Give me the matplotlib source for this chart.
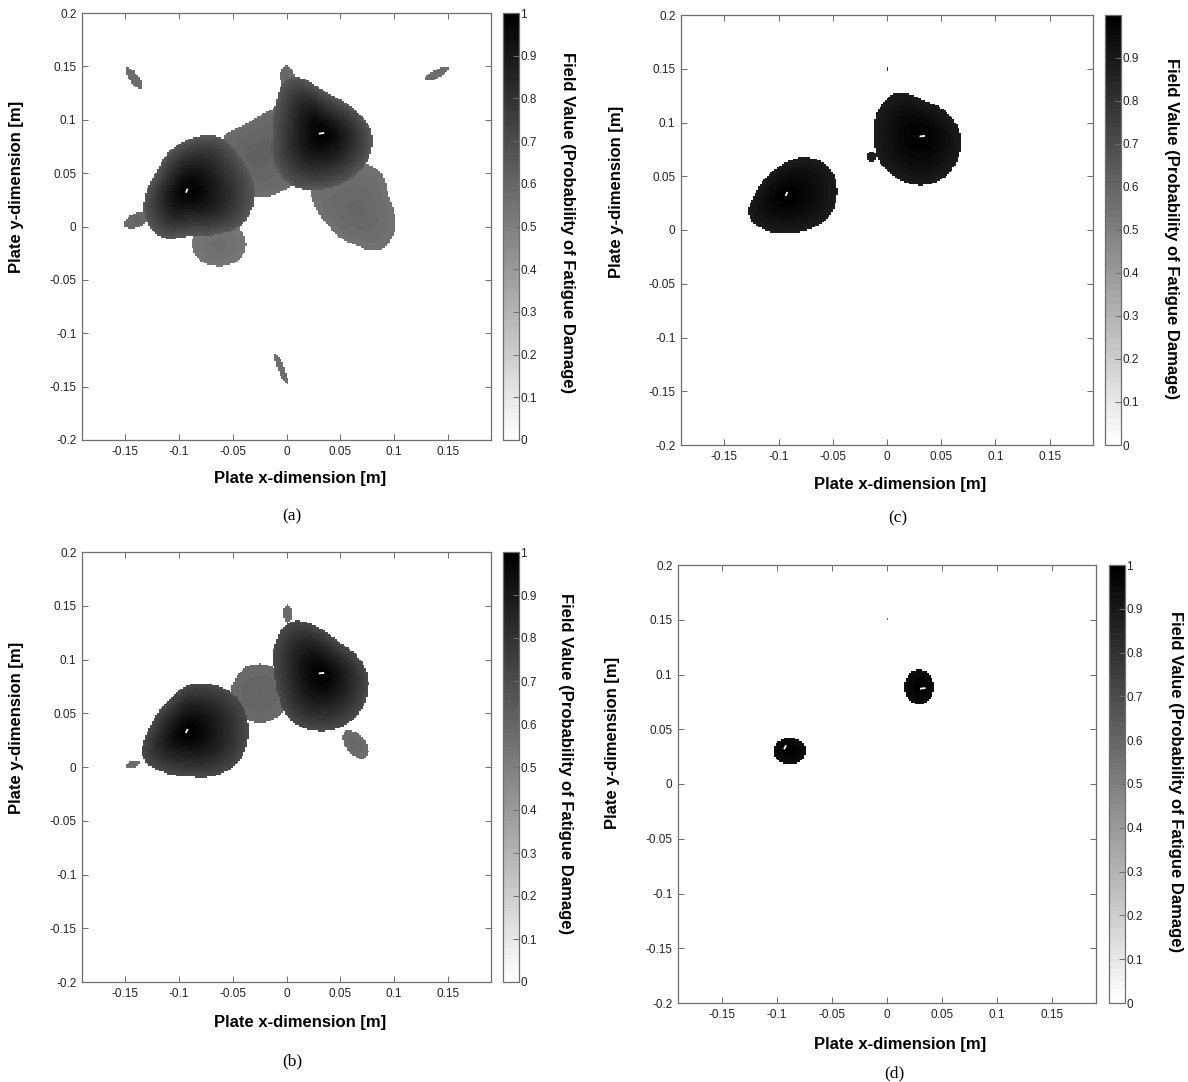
import numpy as np
import matplotlib
matplotlib.use("Agg")
import matplotlib.pyplot as plt
from matplotlib.ticker import FuncFormatter

W, H = 1188, 1082
plt.rcParams['font.family'] = ['Liberation Sans', 'DejaVu Sans']

# ---------------------------------------------------------------- axes setup
X_LIM = (-0.19, 0.19)
Y_LIM = (-0.2, 0.2)
X_TICKS = [-0.15, -0.1, -0.05, 0, 0.05, 0.1, 0.15]
Y_TICKS = [-0.2, -0.15, -0.1, -0.05, 0, 0.05, 0.1, 0.15, 0.2]
CB_TICKS = [0, 0.1, 0.2, 0.3, 0.4, 0.5, 0.6, 0.7, 0.8, 0.9, 1.0]
PANEL_TAGS = ['(a)', '(b)', '(c)', '(d)']
X_LABEL = 'Plate x-dimension [m]'
Y_LABEL = 'Plate y-dimension [m]'
CB_LABEL = 'Field Value (Probability of Fatigue Damage)'

# sensor markers: short white strokes at the two damage sources
SENSOR_X0 = [-0.0936, 0.0300]
SENSOR_Y0 = [0.0317, 0.0870]
SENSOR_X1 = [-0.0918, 0.0350]
SENSOR_Y1 = [0.0354, 0.0876]

# boundary radii of each lobe are sampled at these polar angles
ANGLES_DEG = [0, 30, 60, 90, 120, 150, 180, 210, 240, 270, 300, 330]

# ---------------------------------------------------------------- panel (a)
A_LOBE_CX = [-0.092, 0.0325, -0.028, 0.065, -0.063]
A_LOBE_CY = [0.0335, 0.087, 0.068, 0.015, -0.018]
A_LOBE_R = [
    [0.062, 0.058, 0.058, 0.048, 0.039, 0.034, 0.038, 0.046, 0.050, 0.043, 0.048, 0.060],
    [0.046, 0.039, 0.036, 0.041, 0.060, 0.050, 0.046, 0.052, 0.056, 0.052, 0.050, 0.049],
    [0.045, 0.050, 0.050, 0.034, 0.030, 0.034, 0.035, 0.035, 0.036, 0.040, 0.042, 0.045],
    [0.034, 0.033, 0.042, 0.045, 0.045, 0.048, 0.037, 0.030, 0.030, 0.033, 0.042, 0.040],
    [0.025, 0.025, 0.025, 0.025, 0.025, 0.025, 0.025, 0.023, 0.020, 0.019, 0.020, 0.023],
]
A_LOBE_EDGE = [0.65, 0.65, 0.57, 0.55, 0.53]
A_LOBE_CORE = [1.00, 1.00, 0.62, 0.60, 0.57]
A_ELL_CX = [-0.139, 0.001, -0.142, 0.139, -0.0053]
A_ELL_CY = [0.006, 0.137, 0.139, 0.143, -0.1335]
A_ELL_A = [0.013, 0.014, 0.0125, 0.0125, 0.015]
A_ELL_B = [0.0065, 0.0070, 0.0042, 0.0040, 0.0030]
A_ELL_ANG = [25, 100, -55, 29, -69]
A_ELL_VAL = [0.58, 0.58, 0.56, 0.56, 0.56]

# ---------------------------------------------------------------- panel (b)
B_LOBE_CX = [-0.092, 0.0315, -0.025]
B_LOBE_CY = [0.033, 0.0865, 0.068]
B_LOBE_R = [
    [0.056, 0.056, 0.050, 0.043, 0.034, 0.033, 0.037, 0.048, 0.044, 0.042, 0.048, 0.055],
    [0.043, 0.037, 0.034, 0.042, 0.056, 0.050, 0.043, 0.045, 0.052, 0.053, 0.052, 0.048],
    [0.027, 0.027, 0.027, 0.028, 0.028, 0.027, 0.027, 0.027, 0.027, 0.027, 0.027, 0.027],
]
B_LOBE_EDGE = [0.70, 0.70, 0.58]
B_LOBE_CORE = [1.00, 1.00, 0.61]
B_ELL_CX = [0.0005, -0.1427, 0.0635]
B_ELL_CY = [0.1425, 0.0025, 0.021]
B_ELL_A = [0.0085, 0.0068, 0.0155]
B_ELL_B = [0.0040, 0.0032, 0.0090]
B_ELL_ANG = [90, 20, -50]
B_ELL_VAL = [0.57, 0.57, 0.57]

# ---------------------------------------------------------------- panel (c)
C_LOBE_CX = [-0.093, 0.0314]
C_LOBE_CY = [0.033, 0.0875]
C_LOBE_R = [
    [0.047, 0.047, 0.040, 0.030, 0.025, 0.025, 0.029, 0.040, 0.038, 0.036, 0.038, 0.044],
    [0.037, 0.033, 0.032, 0.034, 0.046, 0.046, 0.043, 0.045, 0.045, 0.046, 0.044, 0.040],
]
C_LOBE_EDGE = [0.88, 0.88]
C_LOBE_CORE = [0.999, 0.999]
C_ELL_CX = [-0.014, 0.0]
C_ELL_CY = [0.068, 0.149]
C_ELL_A = [0.0045, 0.0016]
C_ELL_B = [0.0045, 0.0010]
C_ELL_ANG = [0, 90]
C_ELL_VAL = [0.86, 0.80]

# ---------------------------------------------------------------- panel (d)
D_LOBE_CX = [-0.0885, 0.0292]
D_LOBE_CY = [0.030, 0.0887]
D_LOBE_R = [
    [0.0147, 0.0140, 0.0128, 0.0123, 0.0128, 0.0140, 0.0147, 0.0140, 0.0128, 0.0123, 0.0128, 0.0140],
    [0.0135, 0.0140, 0.0151, 0.0157, 0.0151, 0.0140, 0.0135, 0.0140, 0.0151, 0.0157, 0.0151, 0.0140],
]
D_LOBE_EDGE = [0.93, 0.93]
D_LOBE_CORE = [1.00, 1.00]
D_ELL_CX = [0.0]
D_ELL_CY = [0.1497]
D_ELL_A = [0.0012]
D_ELL_B = [0.0009]
D_ELL_ANG = [0]
D_ELL_VAL = [0.55]

# colour scale limits of each panel
A_VMAX, B_VMAX, C_VMAX, D_VMAX = 1.0, 1.0, 0.999, 1.0

# ---------------------------------------------------------------- field model
STEP = 0.0016
FALLOFF = 1.35
gx = np.arange(X_LIM[0], X_LIM[1] + STEP, STEP)
gy = np.arange(Y_LIM[0], Y_LIM[1] + STEP, STEP)
GX, GY = np.meshgrid(gx, gy)


def periodic_radius(theta_deg, radii):
    """Catmull-Rom interpolation of a closed boundary r(theta)."""
    r = np.asarray(radii, float)
    n = len(r)
    t = theta_deg / (360.0 / n)
    i = np.floor(t).astype(int)
    u = t - i
    p0, p1 = r[(i - 1) % n], r[i % n]
    p2, p3 = r[(i + 1) % n], r[(i + 2) % n]
    return 0.5 * ((2 * p1) + (-p0 + p2) * u
                  + (2 * p0 - 5 * p1 + 4 * p2 - p3) * u ** 2
                  + (-p0 + 3 * p1 - 3 * p2 + p3) * u ** 3)


def lobe(cx, cy, radii, edge, core):
    dx, dy = GX - cx, GY - cy
    r = np.hypot(dx, dy)
    th = np.degrees(np.arctan2(dy, dx)) % 360.0
    s = r / periodic_radius(th, radii)
    v = core - (core - edge) * np.clip(s, 0, 1) ** FALLOFF
    return np.where(s <= 1.0, v, 0.0)


def ellipse(cx, cy, a, b, ang, val):
    c, s_ = np.cos(np.radians(ang)), np.sin(np.radians(ang))
    dx, dy = GX - cx, GY - cy
    u = dx * c + dy * s_
    w = -dx * s_ + dy * c
    s = np.sqrt((u / a) ** 2 + (w / b) ** 2)
    return np.where(s <= 1.0, val + 0.02 * (1 - s), 0.0)


def build_field(lcx, lcy, lr, ledge, lcore, ecx, ecy, ea, eb, eang, eval_):
    f = np.zeros_like(GX)
    for k in range(len(lcx)):
        f = np.maximum(f, lobe(lcx[k], lcy[k], lr[k], ledge[k], lcore[k]))
    for k in range(len(ecx)):
        f = np.maximum(f, ellipse(ecx[k], ecy[k], ea[k], eb[k], eang[k], eval_[k]))
    return f


fields = [
    build_field(A_LOBE_CX, A_LOBE_CY, A_LOBE_R, A_LOBE_EDGE, A_LOBE_CORE,
                A_ELL_CX, A_ELL_CY, A_ELL_A, A_ELL_B, A_ELL_ANG, A_ELL_VAL),
    build_field(B_LOBE_CX, B_LOBE_CY, B_LOBE_R, B_LOBE_EDGE, B_LOBE_CORE,
                B_ELL_CX, B_ELL_CY, B_ELL_A, B_ELL_B, B_ELL_ANG, B_ELL_VAL),
    build_field(C_LOBE_CX, C_LOBE_CY, C_LOBE_R, C_LOBE_EDGE, C_LOBE_CORE,
                C_ELL_CX, C_ELL_CY, C_ELL_A, C_ELL_B, C_ELL_ANG, C_ELL_VAL),
    build_field(D_LOBE_CX, D_LOBE_CY, D_LOBE_R, D_LOBE_EDGE, D_LOBE_CORE,
                D_ELL_CX, D_ELL_CY, D_ELL_A, D_ELL_B, D_ELL_ANG, D_ELL_VAL),
]
vmaxes = [A_VMAX, B_VMAX, C_VMAX, D_VMAX]

# ---------------------------------------------------------------- layout (pixels)
# axes box, colorbar box: (left, top, right, bottom)
AX_BOX = [(82, 13, 491, 440), (82, 552, 491, 982), (681, 15, 1093, 445), (678, 565, 1096, 1003)]
CB_BOX = [(503, 13, 519, 440), (503, 552, 519, 982), (1105, 15, 1121, 445), (1109, 565, 1125, 1003)]
YLAB_POS = [(17, 187), (17, 728), (617, 192), (613, 743)]
CBLAB_POS = [(567, 223), (565, 764), (1171, 229), (1175, 782)]
XLAB_POS = [(300, 478), (300, 1022), (900, 485), (900, 1044)]
TAG_POS = [(292, 516), (292, 1061), (898, 518), (894, 1073)]

cmap = plt.get_cmap('gray_r', 64)
frame_col = '#6e6e6e'
fig = plt.figure(figsize=(W / 100, H / 100), dpi=100)


def rect(box):
    l, t, r, b = box
    return [l / W, 1 - b / H, (r - l) / W, (b - t) / H]


fmt = FuncFormatter(lambda v, p: f"{v:g}")

for k in range(4):
    ax = fig.add_axes(rect(AX_BOX[k]))
    im = ax.imshow(fields[k], extent=(gx[0] - STEP / 2, gx[-1] + STEP / 2,
                                      gy[0] - STEP / 2, gy[-1] + STEP / 2),
                   origin='lower', cmap=cmap, vmin=0, vmax=vmaxes[k],
                   interpolation='nearest', aspect='auto')
    for j in range(len(SENSOR_X0)):
        ax.plot([SENSOR_X0[j], SENSOR_X1[j]], [SENSOR_Y0[j], SENSOR_Y1[j]],
                color='white', lw=1.3, solid_capstyle='butt')
    ax.set_xlim(X_LIM)
    ax.set_ylim(Y_LIM)
    ax.set_xticks(X_TICKS)
    ax.set_yticks(Y_TICKS)
    ax.xaxis.set_major_formatter(fmt)
    ax.yaxis.set_major_formatter(fmt)
    ax.tick_params(direction='in', top=True, right=True, length=4, width=0.7,
                   color=frame_col, labelsize=8.5, labelcolor='#222222', pad=4)
    for sp in ax.spines.values():
        sp.set_color(frame_col)
        sp.set_linewidth(0.9)

    cax = fig.add_axes(rect(CB_BOX[k]))
    cb = fig.colorbar(im, cax=cax)
    cb.set_ticks([t for t in CB_TICKS if t <= vmaxes[k] + 1e-9])
    cb.ax.yaxis.set_major_formatter(fmt)
    cb.ax.tick_params(direction='in', length=4, width=0.7, color=frame_col,
                      labelsize=8.5, labelcolor='#222222', pad=1)
    cb.outline.set_edgecolor(frame_col)
    cb.outline.set_linewidth(0.9)

    fig.text(YLAB_POS[k][0] / W, 1 - YLAB_POS[k][1] / H, Y_LABEL, rotation=90,
             ha='center', va='center', fontsize=12, fontweight='bold')
    fig.text(CBLAB_POS[k][0] / W, 1 - CBLAB_POS[k][1] / H, CB_LABEL, rotation=-90,
             ha='center', va='center', fontsize=12, fontweight='bold')
    fig.text(XLAB_POS[k][0] / W, 1 - XLAB_POS[k][1] / H, X_LABEL,
             ha='center', va='center', fontsize=12, fontweight='bold')
    fig.text(TAG_POS[k][0] / W, 1 - TAG_POS[k][1] / H, PANEL_TAGS[k],
             ha='center', va='center', fontsize=12.5, family=['Liberation Serif', 'DejaVu Serif'])

fig.savefig('out.png', dpi=100, facecolor='white')
